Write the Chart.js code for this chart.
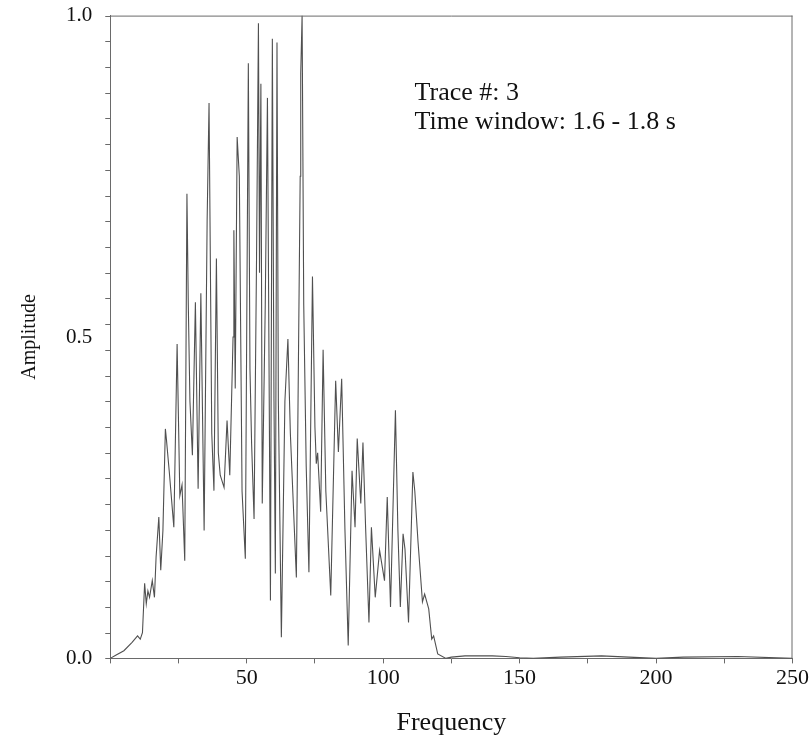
<!DOCTYPE html>
<html>
<head>
<meta charset="utf-8">
<script src="https://cdn.jsdelivr.net/npm/chart.js@4/dist/chart.umd.min.js"></script>
<style>
html,body{margin:0;padding:0;background:#fff;}
#wrap{width:811px;height:739px;position:relative;}
</style>
</head>
<body>
<div id="wrap"><canvas id="c" width="811" height="739"></canvas></div>
<script>
// Spectrum vertices: frequency and amplitude
const frequency = [0,2,5,8,10,11,11.8,12.6,13.2,13.8,14.4,15.4,16.2,16.8,17.8,18.5,19.3,20.2,20.6,21.6,23.3,24.5,25.5,26.3,27.3,28.1,28.6,29.2,30.1,31.2,32.2,33.2,34.4,35.5,36.2,37.2,38.0,38.9,39.6,40.3,41.7,42.8,43.8,45.0,45.3,45.8,46.5,47.3,48.3,49.5,50.6,51.2,51.8,52.7,53.6,54.3,54.7,55.2,55.7,56.8,57.6,58.7,59.4,60.0,60.5,61.1,61.6,62.7,64.0,65.1,66.0,68.2,69.6,69.8,70.3,70.9,71.8,72.8,74.1,75.0,75.5,76.0,77.1,78.0,79.0,80.8,82.6,83.6,84.8,86.0,87.2,88.6,89.7,90.5,91.8,92.6,93.6,94.8,95.7,97.1,98.7,100.5,101.5,102.7,104.5,105.4,106.3,107.3,108.0,109.3,110.9,111.6,112.8,114.4,115.2,116.7,117.8,118.5,120,123,125,130,140,145,150,155,165,180,190,200,210,230,250];
const amplitude = [0,0.005,0.012,0.025,0.035,0.03,0.04,0.117,0.085,0.105,0.095,0.121,0.095,0.158,0.22,0.137,0.199,0.357,0.34,0.292,0.204,0.489,0.253,0.27,0.152,0.723,0.55,0.40,0.316,0.554,0.264,0.568,0.199,0.68,0.864,0.35,0.261,0.622,0.32,0.285,0.266,0.37,0.285,0.50,0.666,0.42,0.811,0.75,0.26,0.155,0.926,0.45,0.334,0.217,0.62,0.988,0.60,0.894,0.241,0.55,0.872,0.09,0.964,0.40,0.132,0.958,0.40,0.033,0.40,0.497,0.35,0.126,0.75,0.91,1.0,0.55,0.30,0.134,0.594,0.36,0.303,0.32,0.228,0.48,0.26,0.098,0.432,0.321,0.435,0.20,0.02,0.292,0.204,0.342,0.241,0.336,0.20,0.056,0.204,0.095,0.168,0.121,0.251,0.08,0.386,0.20,0.08,0.194,0.17,0.056,0.29,0.26,0.18,0.088,0.10,0.077,0.03,0.035,0.007,0,0.002,0.004,0.004,0.003,0.001,0,0.002,0.004,0.002,0,0.002,0.003,0];
const xTickValues = [0,25,50,75,100,125,150,175,200,225,250];
const xLabelValues = [50,100,150,200,250];
const yTickValues = [0,0.04,0.08,0.12,0.16,0.2,0.24,0.28,0.32,0.36,0.4,0.44,0.48,0.52,0.56,0.6,0.64,0.68,0.72,0.76,0.8,0.84,0.88,0.92,0.96,1.0];
const yLabelValues = [0, 0.5, 1.0];
const annotationLines = ["Trace #: 3", "Time window: 1.6 - 1.8 s"];
const annotationAnchor = {x: 111.5, y: 0.868, y2: 0.824};

const points = frequency.map((f,i)=>({x:f, y:amplitude[i]}));
const FONT = "'Liberation Serif', 'Times New Roman', serif";
const AXIS = '#6a6a6a';

const framePlugin = {
  id: 'frame',
  afterDatasetsDraw(chart){
    const {ctx, chartArea:a, scales} = chart;
    ctx.save();
    ctx.strokeStyle = AXIS;
    ctx.lineWidth = 1;
    ctx.beginPath();
    ctx.moveTo(a.left, a.top+0.5); ctx.lineTo(a.right, a.top+0.5);
    ctx.moveTo(a.right-0.5, a.top); ctx.lineTo(a.right-0.5, a.bottom);
    // y-axis tick marks (outward, short)
    yTickValues.forEach(v=>{
      const py = Math.round(scales.y.getPixelForValue(v)) + 0.5;
      ctx.moveTo(a.left - 5, py); ctx.lineTo(a.left, py);
    });
    ctx.stroke();
    ctx.fillStyle = '#111';
    ctx.font = "26px " + FONT;
    ctx.textBaseline = 'alphabetic';
    ctx.textAlign = 'left';
    const px = scales.x.getPixelForValue(annotationAnchor.x);
    ctx.fillText(annotationLines[0], px, scales.y.getPixelForValue(annotationAnchor.y));
    ctx.fillText(annotationLines[1], px, scales.y.getPixelForValue(annotationAnchor.y2));
    ctx.restore();
  }
};

new Chart(document.getElementById('c'), {
  type: 'line',
  data: { datasets: [{
    data: points,
    borderColor: '#505050',
    borderWidth: 1.1,
    pointRadius: 0,
    tension: 0,
    fill: false
  }]},
  options: {
    responsive: false,
    animation: false,
    devicePixelRatio: 1,
    layout: { padding: { top: 0, right: 3, left: 18, bottom: 0 } },
    plugins: { legend: {display:false}, tooltip: {enabled:false} },
    scales: {
      x: {
        type: 'linear', min: 0, max: 250,
        afterBuildTicks(s){ s.ticks = xTickValues.map(v=>({value:v})); },
        ticks: {
          autoSkip: false, maxRotation: 0, padding: 2,
          color: '#111', font: {family: FONT, size: 22},
          callback: (v)=> xLabelValues.includes(v) ? String(v) : ''
        },
        grid: { drawOnChartArea: false, drawTicks: true, tickLength: 5, color: AXIS },
        border: { display: true, color: AXIS, width: 1 },
        title: { display: true, text: 'Frequency', color: '#111', font: {family: FONT, size: 26}, padding: {top: 14, bottom: 0} }
      },
      y: {
        type: 'linear', min: 0, max: 1.0,
        afterBuildTicks(s){
          s.ticks = yLabelValues.map(v=>({value:v}));
        },
        ticks: {
          autoSkip: false, padding: 3,
          color: '#111', font: {family: FONT, size: 21},
          callback: (v)=> v.toFixed(1)
        },
        grid: {
          drawOnChartArea: false, drawTicks: true, tickLength: 15,
          tickColor: 'rgba(0,0,0,0)', color: AXIS
        },
        border: { display: true, color: AXIS, width: 1 },
        title: { display: true, text: 'Amplitude', color: '#111', font: {family: FONT, size: 20}, padding: {top: 0, bottom: 21} }
      }
    }
  },
  plugins: [framePlugin]
});
</script>
</body>
</html>
